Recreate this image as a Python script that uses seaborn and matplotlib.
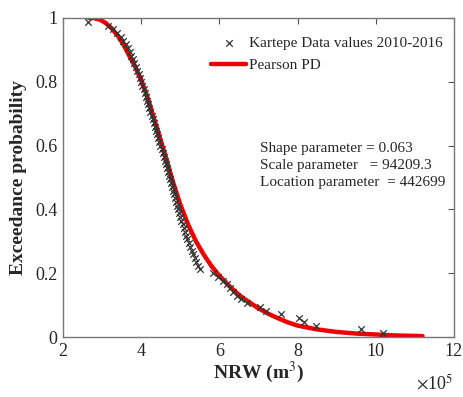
import matplotlib
matplotlib.use("Agg")
import matplotlib.pyplot as plt
import seaborn as sns
import pandas as pd

# Observed data (NRW in units of 1e5 m^3) and exceedance probability
obs_x = [2.64, 3.15, 3.28, 3.38, 3.47, 3.54, 3.60, 3.65, 3.70, 3.74, 3.78, 3.82,
         3.86, 3.90, 3.94, 3.97, 4.00, 4.03, 4.06, 4.09, 4.11, 4.14, 4.17, 4.20,
         4.23, 4.27, 4.30, 4.32, 4.35, 4.38, 4.41, 4.43, 4.46, 4.49, 4.52, 4.55,
         4.57, 4.60, 4.63, 4.66, 4.68, 4.71, 4.73, 4.76, 4.78, 4.81, 4.84, 4.86,
         4.89, 4.92, 4.94, 4.97, 5.00, 5.03, 5.06, 5.09, 5.12, 5.15, 5.18, 5.21,
         5.25, 5.29, 5.33, 5.37, 5.41, 5.45, 5.50, 5.84, 5.96, 6.10, 6.20, 6.27,
         6.35, 6.45, 6.55, 6.70, 7.04, 7.19, 7.57, 8.04, 8.16, 8.47, 9.62, 10.18]
obs_p = [0.988, 0.976, 0.965, 0.953, 0.941, 0.929, 0.918, 0.906, 0.894, 0.882, 0.871, 0.859,
         0.847, 0.835, 0.824, 0.812, 0.800, 0.788, 0.776, 0.765, 0.753, 0.741, 0.729, 0.718,
         0.706, 0.694, 0.682, 0.671, 0.659, 0.647, 0.635, 0.624, 0.612, 0.600, 0.588, 0.576,
         0.565, 0.553, 0.541, 0.529, 0.518, 0.506, 0.494, 0.482, 0.471, 0.459, 0.447, 0.435,
         0.424, 0.412, 0.400, 0.388, 0.376, 0.365, 0.353, 0.341, 0.329, 0.318, 0.306, 0.294,
         0.282, 0.271, 0.259, 0.247, 0.235, 0.224, 0.212, 0.200, 0.188, 0.176, 0.165, 0.153,
         0.141, 0.129, 0.118, 0.106, 0.094, 0.082, 0.071, 0.059, 0.047, 0.035, 0.024, 0.012]

# Fitted Pearson curve
fit_x = [2.65, 2.8, 2.95, 3.1, 3.25, 3.4, 3.55, 3.7, 3.85, 4.0, 4.15, 4.3, 4.45, 4.6,
         4.8, 5.0, 5.2, 5.4, 5.6, 5.8, 6.0, 6.25, 6.5, 6.75, 7.0, 7.25, 7.5, 7.75,
         8.0, 8.5, 9.0, 9.5, 10.0, 10.5, 11.2]
fit_p = [1.0, 0.999, 0.994, 0.983, 0.966, 0.944, 0.915, 0.88, 0.845, 0.805, 0.755, 0.695,
         0.635, 0.575, 0.49, 0.415, 0.352, 0.300, 0.258, 0.222, 0.192, 0.160, 0.132,
         0.110, 0.090, 0.073, 0.059, 0.046, 0.036, 0.024, 0.016, 0.011, 0.008, 0.005, 0.003]

x_ticks = [2, 4, 6, 8, 10, 12]
y_ticks = [0, 0.2, 0.4, 0.6, 0.8, 1]
y_ticklabels = ["0", "0.2", "0.4", "0.6", "0.8", "1"]

sns.set_style("white")
plt.rcParams['font.family'] = ['Liberation Serif', 'DejaVu Serif']
plt.rcParams['mathtext.fontset'] = 'stix'

fig = plt.figure(figsize=(4.64, 3.97), dpi=100)
ax = fig.add_axes([0.136, 0.151, 0.842, 0.804])

df_obs = pd.DataFrame({"x": obs_x, "p": obs_p})
df_fit = pd.DataFrame({"x": fit_x, "p": fit_p})

sns.scatterplot(data=df_obs, x="x", y="p", ax=ax, marker="x", color="#333333",
                s=22, linewidth=0.9, label="Kartepe Data values 2010-2016", zorder=3)
sns.lineplot(data=df_fit, x="x", y="p", ax=ax, color="#ee0000", linewidth=3.2,
             label="Pearson PD", zorder=2, sort=False)

ax.set_xlim(2, 12)
ax.set_ylim(0, 1)
ax.set_xticks(x_ticks)
ax.set_xticklabels([str(t) for t in x_ticks])
ax.set_yticks(y_ticks)
ax.set_yticklabels(y_ticklabels)
ax.tick_params(direction="in", length=4, width=0.8, color="#555555",
               labelsize=13, top=True, right=True, pad=4)
for s in ax.spines.values():
    s.set_color("#777777")
    s.set_linewidth(1.0)

ax.set_xlabel("NRW (m$^3$)", fontsize=14, fontweight="bold", labelpad=0)
ax.set_ylabel("Exceedance probability", fontsize=14, fontweight="bold", labelpad=6)

ax.text(1.0, -0.115, "$\\times$10$^5$", transform=ax.transAxes, fontsize=13,
        ha="right", va="top")

leg = ax.legend(loc="upper right", frameon=False, fontsize=11, handlelength=2.3,
                borderaxespad=0.3, handletextpad=0.2, labelspacing=0.55,
                bbox_to_anchor=(1.0, 0.975))

ax.text(0.504, 0.61, "Shape parameter = 0.063\nScale parameter   = 94209.3\nLocation parameter  = 442699",
        transform=ax.transAxes, fontsize=11, ha="left", va="top", linespacing=1.4)

fig.savefig("out.png", dpi=100)
